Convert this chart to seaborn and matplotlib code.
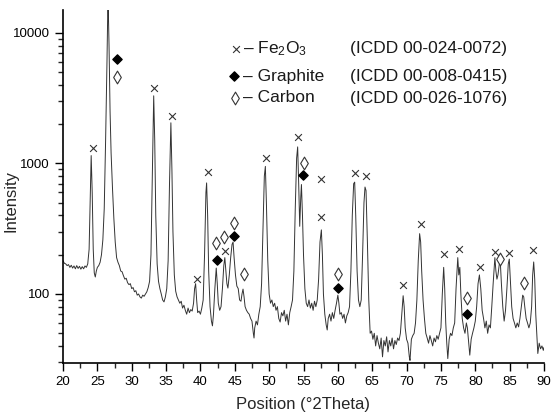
import matplotlib
matplotlib.use("Agg")
import matplotlib.pyplot as plt
import seaborn as sns
import pandas as pd
from matplotlib.ticker import MultipleLocator, LogLocator, NullFormatter, FixedLocator

two_theta = [
    20.0, 20.2, 20.4, 20.6, 20.8, 21.0, 21.2, 21.4, 21.6, 21.8, 22.0, 22.2, 22.4, 22.6, 22.8, 23.0, 23.2, 23.4, 23.6, 23.8,
    23.95, 24.1, 24.25, 24.4, 24.55, 24.7, 24.85, 25.0, 25.2, 25.4, 25.6, 25.8, 26.0, 26.2, 26.4, 26.55, 26.7, 26.85, 27.0, 27.2,
    27.4, 27.6, 27.8, 28.0, 28.2, 28.4, 28.6, 28.8, 29.0, 29.2, 29.4, 29.6, 29.8, 30.0, 30.2, 30.4, 30.6, 30.8, 31.0, 31.2,
    31.4, 31.6, 31.8, 32.0, 32.2, 32.4, 32.6, 32.8, 33.0, 33.2, 33.35, 33.5, 33.7, 33.9, 34.1, 34.3, 34.5, 34.7, 34.9, 35.1,
    35.3, 35.5, 35.7, 35.85, 36.0, 36.2, 36.4, 36.6, 36.8, 37.0, 37.2, 37.4, 37.6, 37.8, 38.0, 38.2, 38.4, 38.6, 38.8, 39.0,
    39.15, 39.3, 39.45, 39.6, 39.8, 40.0, 40.2, 40.4, 40.6, 40.8, 40.9, 41.05, 41.2, 41.4, 41.6, 41.75, 41.9, 42.1, 42.3, 42.45,
    42.6, 42.8, 43.0, 43.2, 43.4, 43.55, 43.7, 43.85, 44.0, 44.2, 44.4, 44.6, 44.75, 44.9, 45.1, 45.3, 45.5, 45.7, 45.9, 46.05,
    46.2, 46.35, 46.5, 46.7, 46.9, 47.1, 47.3, 47.5, 47.7, 47.8, 47.9, 48.1, 48.3, 48.5, 48.7, 48.9, 49.1, 49.3, 49.45, 49.6,
    49.8, 50.0, 50.2, 50.4, 50.6, 50.8, 51.0, 51.2, 51.4, 51.6, 51.8, 52.0, 52.2, 52.4, 52.6, 52.8, 53.0, 53.2, 53.4, 53.6,
    53.8, 54.0, 54.15, 54.3, 54.45, 54.6, 54.7, 54.85, 55.0, 55.2, 55.4, 55.6, 55.8, 56.0, 56.2, 56.4, 56.6, 56.8, 57.0, 57.2,
    57.4, 57.6, 57.75, 57.9, 58.1, 58.3, 58.45, 58.6, 58.8, 59.0, 59.2, 59.4, 59.6, 59.8, 60.0, 60.15, 60.3, 60.5, 60.7, 60.9,
    61.1, 61.3, 61.5, 61.7, 61.9, 62.1, 62.3, 62.45, 62.6, 62.8, 63.0, 63.2, 63.4, 63.6, 63.8, 63.95, 64.1, 64.3, 64.5, 64.7,
    64.9, 65.1, 65.3, 65.5, 65.7, 65.9, 66.1, 66.3, 66.5, 66.7, 66.9, 67.1, 67.3, 67.5, 67.7, 67.9, 68.1, 68.3, 68.5, 68.7,
    68.9, 69.1, 69.3, 69.5, 69.65, 69.8, 70.0, 70.2, 70.4, 70.5, 70.7, 70.9, 71.1, 71.3, 71.5, 71.7, 71.9, 72.05, 72.2, 72.4,
    72.6, 72.8, 73.0, 73.2, 73.4, 73.6, 73.8, 74.0, 74.2, 74.4, 74.6, 74.8, 75.0, 75.2, 75.4, 75.55, 75.7, 75.85, 76.0, 76.2,
    76.4, 76.6, 76.8, 77.0, 77.2, 77.45, 77.6, 77.75, 77.9, 78.1, 78.3, 78.5, 78.7, 78.85, 79.0, 79.2, 79.4, 79.6, 79.8, 80.0,
    80.2, 80.4, 80.6, 80.8, 81.0, 81.2, 81.4, 81.6, 81.8, 82.0, 82.2, 82.4, 82.6, 82.85, 83.0, 83.15, 83.3, 83.5, 83.65, 83.8,
    84.0, 84.2, 84.4, 84.6, 84.8, 84.95, 85.1, 85.3, 85.5, 85.7, 85.9, 86.1, 86.3, 86.5, 86.7, 86.9, 87.05, 87.2, 87.4, 87.6,
    87.8, 88.0, 88.2, 88.35, 88.5, 88.65, 88.8, 89.0, 89.1, 89.3, 89.5, 89.7, 89.9, 90.0,
]
intensity = [
    180, 172, 170, 165, 168, 160, 166, 158, 164, 156, 165, 157, 163, 155, 162, 156, 164, 160, 170, 220,
    500, 1150, 600, 220, 145, 135, 150, 160, 165, 175, 200, 260, 450, 1500, 6000, 20000, 8000, 2500, 1200, 650,
    380, 250, 190, 175, 165, 150, 148, 138, 130, 132, 122, 118, 120, 110, 112, 104, 106, 98, 100, 95,
    93, 98, 96, 100, 104, 112, 125, 200, 800, 3300, 1500, 400, 170, 125, 110, 100, 90, 87, 95, 110,
    180, 700, 2050, 900, 300, 140, 105, 95, 90, 85, 88, 78, 82, 75, 70, 78, 72, 76, 74, 85,
    110, 120, 90, 72, 74, 70, 78, 90, 200, 600, 710, 400, 150, 80, 62, 57, 70, 110, 158, 120,
    85, 75, 80, 110, 165, 190, 150, 120, 111, 140, 190, 240, 250, 190, 140, 115, 110, 90, 88, 100,
    109, 95, 80, 75, 72, 70, 65, 62, 50, 46, 55, 62, 58, 70, 80, 120, 300, 800, 950, 500,
    180, 100, 85, 90, 80, 85, 75, 80, 65, 61, 72, 68, 75, 62, 70, 58, 72, 80, 90, 150,
    450, 1100, 1340, 700, 330, 550, 690, 400, 200, 110, 85, 80, 90, 78, 85, 75, 88, 80, 90, 130,
    250, 310, 200, 100, 70, 58, 53, 65, 70, 62, 72, 65, 75, 85, 98, 85, 70, 72, 65, 70,
    60, 68, 72, 80, 150, 400, 700, 720, 400, 150, 90, 80, 90, 200, 500, 660, 620, 250, 90, 50,
    52, 45, 50, 40, 48, 42, 38, 46, 33, 44, 40, 47, 36, 44, 40, 46, 38, 44, 41, 46,
    44, 50, 70, 97, 80, 55, 45, 42, 33, 31, 45, 48, 50, 60, 90, 180, 290, 250, 150, 90,
    65, 50, 46, 42, 48, 44, 40, 46, 43, 48, 45, 50, 55, 100, 160, 110, 60, 42, 32, 45,
    50, 48, 55, 60, 110, 190, 140, 160, 100, 65, 55, 50, 60, 55, 45, 34, 45, 50, 55, 62,
    80, 120, 140, 110, 75, 65, 55, 62, 50, 58, 55, 80, 120, 190, 150, 130, 140, 170, 173, 120,
    80, 62, 75, 110, 170, 185, 130, 80, 65, 60, 55, 60, 56, 65, 80, 98, 95, 80, 65, 60,
    55, 60, 80, 140, 176, 130, 70, 45, 35, 42, 38, 40, 37, 39,
]

fe_x = [24.3, 33.25, 35.9, 41.15, 39.46, 43.58, 49.5, 54.25, 57.55, 57.55, 62.5, 64.1, 69.55, 72.07, 75.5, 77.6, 80.7, 82.93, 84.92, 88.45]
fe_y = [1315, 3790, 2310, 860, 130, 213, 1100, 1600, 760, 389, 846, 802, 117, 344, 203, 221, 161, 210, 206, 217]
gr_x = [27.9, 42.37, 44.9, 54.98, 60.07, 78.85]
gr_y = [6340, 182, 278, 816, 111, 70]
ca_x = [27.9, 42.27, 43.48, 44.94, 46.4, 55.0, 60.0, 78.85, 83.6, 87.1]
ca_y = [4600, 246, 275, 350, 142, 1015, 142, 93, 185, 122]

legend_names = ["\u2013 Fe$_2$O$_3$", "\u2013 Graphite", "\u2013 Carbon"]
legend_refs = ["(ICDD 00-024-0072)", "(ICDD 00-008-0415)", "(ICDD 00-026-1076)"]

sns.set_style("ticks")
plt.rcParams["font.family"] = ["Liberation Sans", "DejaVu Sans"]
plt.rcParams["mathtext.fontset"] = "custom"
plt.rcParams["mathtext.rm"] = "Liberation Sans"
plt.rcParams["mathtext.it"] = "Liberation Sans:italic"

fig = plt.figure(figsize=(5.52, 4.19), dpi=100)
ax = fig.add_axes([63 / 552, 1 - 363 / 419, (544 - 63) / 552, (363 - 10) / 419])

df = pd.DataFrame({"x": two_theta, "y": intensity})
sns.lineplot(data=df, x="x", y="y", ax=ax, color="#333333", lw=0.7, estimator=None, sort=False)

ax.set_yscale("log")
ax.set_xlim(20, 90)
ax.set_ylim(29.6, 15000)

ax.scatter(fe_x, fe_y, marker="x", s=24, color="#333333", linewidths=0.8, zorder=3, clip_on=False)
ax.scatter(gr_x, gr_y, marker="D", s=22, color="black", zorder=3, clip_on=False)
ax.scatter(ca_x, ca_y, marker="d", s=42, facecolor="white", edgecolor="#333333", linewidths=0.8, zorder=3, clip_on=False)

# legend-like annotation
rows_y = [(363 - 49) / 353, (363 - 76) / 353, (363 - 98) / 353]
ax.scatter([0.36], [rows_y[0]], marker="x", s=24, color="#333333", linewidths=0.8, transform=ax.transAxes, clip_on=False)
ax.scatter([0.355], [rows_y[1]], marker="D", s=22, color="black", transform=ax.transAxes, clip_on=False)
ax.scatter([0.358], [rows_y[2]], marker="d", s=42, facecolor="white", edgecolor="#333333", linewidths=0.8,
           transform=ax.transAxes, clip_on=False)
for yy, nm, rf in zip(rows_y, legend_names, legend_refs):
    ax.text(0.374, yy, nm, transform=ax.transAxes, fontsize=12.5, va="center", ha="left", color="#1a1a1a")
    ax.text(0.597, yy, rf, transform=ax.transAxes, fontsize=12.5, va="center", ha="left", color="#1a1a1a")

ax.xaxis.set_major_locator(MultipleLocator(5))
ax.xaxis.set_minor_locator(MultipleLocator(2.5))
ax.yaxis.set_major_locator(FixedLocator([100, 1000, 10000]))
ax.yaxis.set_minor_locator(LogLocator(base=10, subs=range(2, 10)))
ax.yaxis.set_minor_formatter(NullFormatter())
ax.set_yticklabels(["100", "1000", "10000"])

ax.tick_params(axis="both", which="major", direction="out", length=6, width=1, labelsize=9.5, colors="black")
ax.tick_params(axis="both", which="minor", direction="out", length=3.5, width=1)
for s in ["top", "right"]:
    ax.spines[s].set_visible(False)
for s in ["left", "bottom"]:
    ax.spines[s].set_linewidth(1.2)
    ax.spines[s].set_color("black")

ax.set_xlabel("Position (\u00b02Theta)", fontsize=12)
ax.set_ylabel("Intensity", fontsize=12)
ax.xaxis.labelpad = 6
ax.yaxis.set_label_coords(-0.093, 0.46)

fig.savefig("out.png", dpi=100)
